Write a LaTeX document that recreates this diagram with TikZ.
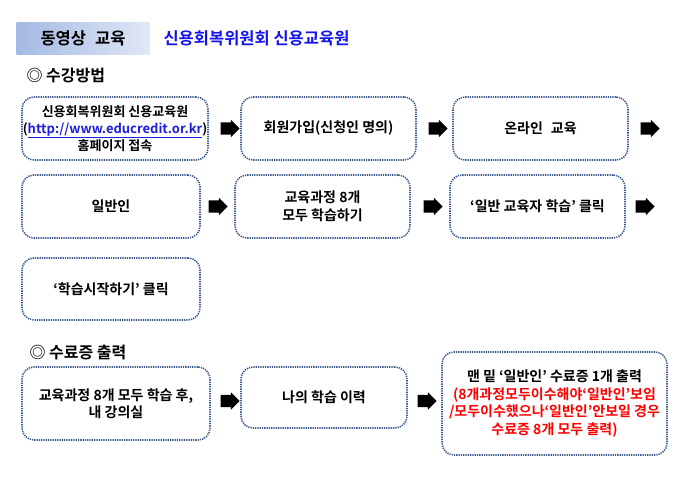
\documentclass[tikz,border=0pt]{standalone}
\usepackage{fontspec}
\setmainfont{Noto Sans CJK KR}[BoldFont={Noto Sans CJK KR Bold}]
\usetikzlibrary{shapes.arrows}

\definecolor{dotline}{RGB}{62,92,140}
\definecolor{hdrdark}{RGB}{164,186,228}
\definecolor{hdrlight}{RGB}{224,232,246}
\definecolor{titleblue}{RGB}{20,20,235}
\definecolor{linkblue}{RGB}{30,30,220}

\begin{document}
\begin{tikzpicture}[
          x=1pt, y=-1pt,
          every node/.style={align=center, font=\bfseries\fontsize{14}{17.5}\selectfont},
          stepbox/.style={draw=dotline, line width=1.6pt, dash pattern=on 1.3pt off 1pt, rounded corners=12pt, inner sep=2pt},
          blkarrow/.style={single arrow, fill=black, draw=none, inner xsep=0pt, inner ysep=6pt, minimum height=19pt, single arrow head extend=2.5pt},
          heading/.style={anchor=west, font=\bfseries\fontsize{16}{18}\selectfont},
          hdrbox/.style={left color=hdrdark, right color=hdrlight, font=\bfseries\fontsize{16.5}{18}\selectfont}
        ]
        \useasboundingbox (0,0) rectangle (674,483);

        % Title bar
        \node[hdrbox, minimum width=133, minimum height=32] (hdr) at (83,38) {동영상\hspace{9pt}교육};
        \node[heading, text=titleblue, font=\bfseries\fontsize{16.5}{18}\selectfont] (title) at (160,38) {신용회복위원회 신용교육원};

        % Section 1
        \node[heading] (sec1) at (23,76) {◎ 수강방법};

        % Row 1
        \node[stepbox, minimum width=186, minimum height=63, inner xsep=0pt, font=\bfseries\fontsize{13}{17}\selectfont] (b1) at (115,128.5) {신용회복위원회 신용교육원\\({\color{linkblue}\underline{http://www.educredit.or.kr}})\\홈페이지 접속};
        \node[blkarrow] (a1) at (227,128.5) {};
        \node[stepbox, minimum width=175, minimum height=63] (b2) at (328.5,128.5) {회원가입(신청인 명의)};
        \node[blkarrow] (a2) at (435,128.5) {};
        \node[stepbox, minimum width=175, minimum height=63] (b3) at (540.5,128.5) {온라인\hspace{8pt}교육};
        \node[blkarrow] (a3) at (647,128.5) {};

        % Row 2
        \node[stepbox, minimum width=178, minimum height=63] (c1) at (111,206.5) {일반인};
        \node[blkarrow] (a4) at (215,206.5) {};
        \node[stepbox, minimum width=175, minimum height=63] (c2) at (322.5,206.5) {교육과정 8개\\모두 학습하기};
        \node[blkarrow] (a5) at (430,206.5) {};
        \node[stepbox, minimum width=175, minimum height=63] (c3) at (537.5,206.5) {‘일반 교육자 학습’ 클릭};
        \node[blkarrow] (a6) at (642,206.5) {};

        % Row 3
        \node[stepbox, minimum width=178, minimum height=62] (d1) at (111,289) {‘학습시작하기’ 클릭};

        % Section 2
        \node[heading] (sec2) at (26,352) {◎ 수료증 출력};

        % Row 4
        \node[stepbox, minimum width=188, minimum height=73] (e1) at (116,403.5) {교육과정 8개 모두 학습 후,\\내 강의실};
        \node[blkarrow] (a7) at (227,401) {};
        \node[stepbox, minimum width=166, minimum height=61] (e2) at (324,397.5) {나의 학습 이력};
        \node[blkarrow] (a8) at (424,401) {};
        \node[stepbox, minimum width=225, minimum height=103] (e3) at (554.5,403.5) {맨 밑 ‘일반인’ 수료증 1개 출력\\{\color{red}(8개과정모두이수해야‘일반인’보임}\\{\color{red}/모두이수했으나‘일반인’안보일 경우}\\{\color{red}수료증 8개 모두 출력)}};

      \end{tikzpicture}
\end{document}
